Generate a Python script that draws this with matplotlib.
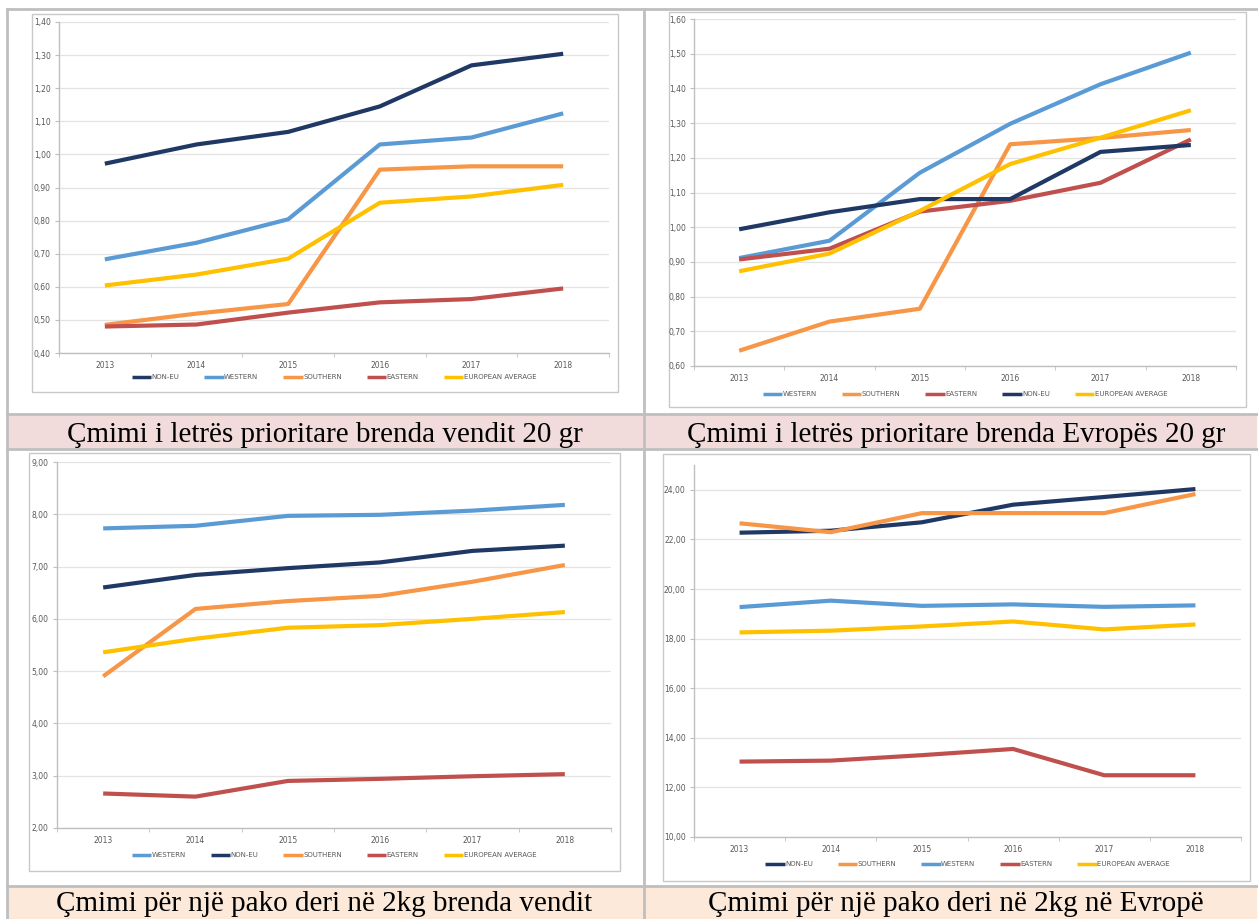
import matplotlib.pyplot as plt
from matplotlib.lines import Line2D

W, H = 1258, 919

years = ['2013', '2014', '2015', '2016', '2017', '2018']

# chart 1: domestic priority letter 20 g
c1_non_eu = [0.972, 1.030, 1.068, 1.145, 1.269, 1.304]
c1_western = [0.683, 0.733, 0.804, 1.030, 1.051, 1.124]
c1_southern = [0.485, 0.519, 0.548, 0.954, 0.964, 0.964]
c1_eastern = [0.480, 0.486, 0.522, 0.553, 0.563, 0.595]
c1_avg = [0.604, 0.637, 0.685, 0.854, 0.873, 0.908]

# chart 2: priority letter within Europe 20 g
c2_western = [0.911, 0.961, 1.157, 1.298, 1.412, 1.503]
c2_southern = [0.644, 0.728, 0.765, 1.239, 1.257, 1.280]
c2_eastern = [0.907, 0.938, 1.045, 1.076, 1.128, 1.253]
c2_non_eu = [0.994, 1.043, 1.081, 1.081, 1.217, 1.237]
c2_avg = [0.873, 0.924, 1.047, 1.182, 1.258, 1.337]

# chart 3: parcel up to 2 kg domestic
c3_western = [7.73, 7.78, 7.97, 7.99, 8.07, 8.18]
c3_non_eu = [6.60, 6.84, 6.97, 7.08, 7.30, 7.40]
c3_southern = [4.90, 6.19, 6.34, 6.44, 6.71, 7.03]
c3_eastern = [2.66, 2.60, 2.90, 2.94, 2.99, 3.03]
c3_avg = [5.36, 5.62, 5.83, 5.88, 6.00, 6.13]

# chart 4: parcel up to 2 kg in Europe
c4_non_eu = [22.27, 22.35, 22.69, 23.40, 23.71, 24.03]
c4_southern = [22.65, 22.29, 23.06, 23.06, 23.06, 23.83]
c4_western = [19.27, 19.53, 19.32, 19.38, 19.28, 19.34]
c4_eastern = [13.04, 13.08, 13.30, 13.55, 12.49, 12.49]
c4_avg = [18.25, 18.32, 18.49, 18.69, 18.37, 18.57]

captions = ['Çmimi i letrës prioritare brenda vendit 20 gr',
            'Çmimi i letrës prioritare brenda Evropës 20 gr',
            'Çmimi për një pako deri në 2kg brenda vendit',
            'Çmimi për një pako deri në 2kg në Evropë']

col = {'NON-EU': '#203864', 'WESTERN': '#5b9bd5', 'SOUTHERN': '#f79646',
       'EASTERN': '#c0504d', 'EUROPEAN AVERAGE': '#ffc000'}


def fx(px):
    return px / W


def fy(py):
    return 1 - py / H


fig = plt.figure(figsize=(W / 100, H / 100), dpi=100)
fig.patch.set_facecolor('white')

# table: caption backgrounds and borders
fig.patches.append(plt.Rectangle((fx(7), fy(449)), fx(1256) - fx(7), fy(414) - fy(449),
                                 transform=fig.transFigure, color='#f2dcdb', zorder=0))
fig.patches.append(plt.Rectangle((fx(7), fy(919)), fx(1256) - fx(7), fy(886) - fy(919),
                                 transform=fig.transFigure, color='#fde9d9', zorder=0))
bc = '#bfbfbf'
for y in [9, 414, 449, 886]:
    fig.add_artist(Line2D([fx(7), fx(1258)], [fy(y), fy(y)], color=bc, lw=2))
for x in [7, 644]:
    fig.add_artist(Line2D([fx(x), fx(x)], [fy(9), fy(919)], color=bc, lw=2))

# chart frames
frames = [(32, 14, 618, 392), (669, 12, 1246, 407), (29, 453, 620, 871), (663, 454, 1250, 881)]
for x0, y0, x1, y1 in frames:
    fig.patches.append(plt.Rectangle((fx(x0), fy(y1)), fx(x1) - fx(x0), fy(y0) - fy(y1),
                                     transform=fig.transFigure, facecolor='white',
                                     edgecolor='#c8c8c8', lw=1, zorder=1))

charts = [
    dict(box=(59, 22, 609, 353), ylim=(0.4, 1.4), step=0.1, legend_y=377,
         series=[('NON-EU', c1_non_eu), ('WESTERN', c1_western), ('SOUTHERN', c1_southern),
                 ('EASTERN', c1_eastern), ('EUROPEAN AVERAGE', c1_avg)]),
    dict(box=(694, 19, 1236, 366), ylim=(0.6, 1.6), step=0.1, legend_y=394,
         series=[('WESTERN', c2_western), ('SOUTHERN', c2_southern), ('EASTERN', c2_eastern),
                 ('NON-EU', c2_non_eu), ('EUROPEAN AVERAGE', c2_avg)]),
    dict(box=(57, 462, 611, 828), ylim=(2, 9), step=1, legend_y=855,
         series=[('WESTERN', c3_western), ('NON-EU', c3_non_eu), ('SOUTHERN', c3_southern),
                 ('EASTERN', c3_eastern), ('EUROPEAN AVERAGE', c3_avg)]),
    dict(box=(694, 465, 1241, 837), ylim=(10, 25), step=2, legend_y=864,
         series=[('NON-EU', c4_non_eu), ('SOUTHERN', c4_southern), ('WESTERN', c4_western),
                 ('EASTERN', c4_eastern), ('EUROPEAN AVERAGE', c4_avg)]),
]

tick_col = '#595959'
for ch in charts:
    x0, y0, x1, y1 = ch['box']
    ax = fig.add_axes([fx(x0), fy(y1), fx(x1) - fx(x0), fy(y0) - fy(y1)], zorder=2)
    ax.set_facecolor('none')
    xs = list(range(len(years)))
    for name, vals in ch['series']:
        ax.plot(xs, vals, color=col[name], lw=3.0, label=name, solid_capstyle='butt')
    ax.set_xlim(-0.5, len(years) - 0.5)
    lo, hi = ch['ylim']
    ax.set_ylim(lo, hi)
    ticks = []
    v = lo
    while v <= hi + 1e-9:
        ticks.append(v)
        v += ch['step']
    ax.set_yticks(ticks)
    ax.set_yticklabels(['{:.2f}'.format(t).replace('.', ',') for t in ticks])
    ax.set_xticks(xs)
    ax.set_xticklabels(years)
    ax.set_xticks([i - 0.5 for i in range(len(years) + 1)], minor=True)
    ax.tick_params(axis='x', which='major', length=0, pad=6, labelsize=5.5, colors=tick_col)
    ax.tick_params(axis='x', which='minor', length=3, color='#bfbfbf')
    ax.tick_params(axis='y', length=3, color='#bfbfbf', labelsize=5.5, labelcolor=tick_col, pad=3)
    ax.grid(axis='y', color='#e3e3e3', lw=0.9)
    ax.set_axisbelow(True)
    for s in ['top', 'right']:
        ax.spines[s].set_visible(False)
    for s in ['left', 'bottom']:
        ax.spines[s].set_color('#bfbfbf')
        ax.spines[s].set_linewidth(1)
    leg = ax.legend(loc='center', bbox_to_anchor=((fx(x0) + fx(x1)) / 2, fy(ch['legend_y'])),
                    bbox_transform=fig.transFigure, ncol=5, frameon=False, fontsize=5,
                    handlelength=2.8, handletextpad=0.05, columnspacing=3.6)
    for t in leg.get_texts():
        t.set_color(tick_col)
    for ln in leg.get_lines():
        ln.set_linewidth(2.5)

cap_font = ['Liberation Serif', 'DejaVu Serif']
fig.text(fx(325), fy(442), captions[0], ha='center', va='baseline', fontsize=21, family=cap_font)
fig.text(fx(956), fy(442), captions[1], ha='center', va='baseline', fontsize=21, family=cap_font)
fig.text(fx(324), fy(911), captions[2], ha='center', va='baseline', fontsize=21, family=cap_font)
fig.text(fx(956), fy(911), captions[3], ha='center', va='baseline', fontsize=21, family=cap_font)

fig.savefig('out.png', dpi=100)
